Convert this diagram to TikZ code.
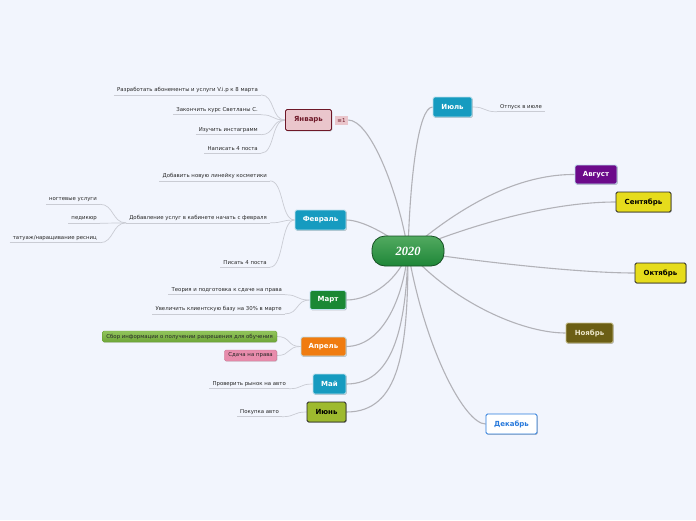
\documentclass[tikz,border=0pt]{standalone}
\usepackage{fontspec}
\setmainfont{DejaVu Sans}
\newfontfamily\serifbi{Liberation Serif}
\usetikzlibrary{shadows}
\definecolor{bgc}{RGB}{242,245,253}
\definecolor{mainline}{RGB}{178,178,184}
\definecolor{subline}{RGB}{202,204,212}
\definecolor{leaftxt}{RGB}{40,40,40}
\definecolor{janfill}{RGB}{234,198,204}
\definecolor{janline}{RGB}{110,24,40}
\definecolor{teal}{RGB}{22,155,192}
\definecolor{tealline}{RGB}{190,225,236}
\definecolor{margreen}{RGB}{26,136,52}
\definecolor{aprorange}{RGB}{240,124,16}
\definecolor{junolive}{RGB}{158,186,46}
\definecolor{augpurple}{RGB}{108,10,138}
\definecolor{sepyellow}{RGB}{230,220,28}
\definecolor{novfill}{RGB}{107,94,20}
\definecolor{novline}{RGB}{200,192,140}
\definecolor{novtxt}{RGB}{236,230,200}
\definecolor{decblue}{RGB}{40,122,220}
\definecolor{ctop}{RGB}{82,170,96}
\definecolor{cbot}{RGB}{30,134,56}
\definecolor{cline}{RGB}{22,80,36}
\definecolor{grtop}{RGB}{146,196,92}
\definecolor{grbot}{RGB}{110,166,56}
\definecolor{pinkbox}{RGB}{232,140,172}
\pgfdeclarelayer{back}
\pgfdeclarelayer{lines}
\pgfsetlayers{back,lines,main}
\tikzset{
  month/.style={draw, rounded corners=1.5pt, line width=0.8pt, inner sep=0pt,
    font=\fontsize{7}{8}\selectfont\bfseries, text=white,
    drop shadow={shadow xshift=0.8pt, shadow yshift=-0.9pt, fill=black, opacity=0.22}},
  leaf/.style={font=\fontsize{5.4}{6}\selectfont, text=leaftxt, inner xsep=3pt, inner ysep=2pt},
  conn/.style={draw=mainline, line width=1.1pt},
  subconn/.style={draw=subline, line width=0.7pt},
  boxleaf/.style={rounded corners=1.5pt, font=\fontsize{5.4}{6}\selectfont, inner xsep=4pt, inner ysep=0pt, minimum height=11pt,
    drop shadow={shadow xshift=0.6pt, shadow yshift=-0.7pt, fill=black, opacity=0.15}}
}
\begin{document}
\begin{tikzpicture}[x=1pt,y=-1pt]
\begin{pgfonlayer}{back}
\fill[bgc] (0,0) rectangle (696,520);
\end{pgfonlayer}
\useasboundingbox (0,0) rectangle (696,520);

% central node
\node[draw=cline, line width=0.8pt, top color=ctop, bottom color=cbot, rounded corners=13pt,
  minimum width=72pt, minimum height=30pt, inner sep=0pt, text=white,
  font=\serifbi\fontsize{12.5}{13}\selectfont\bfseries\itshape] (c) at (408,251) {2020};

% months
\node[month, fill=janfill, draw=janline, text=janline, minimum width=46pt, minimum height=21pt] (jan) at (308.5,120) {Январь};
\node[fill=janfill, inner sep=0pt, minimum width=13pt, minimum height=9pt, text=janline, font=\fontsize{5.5}{6}\selectfont] (badge) at (341.5,120) {≡1};
\node[month, fill=teal, draw=tealline, minimum width=51pt, minimum height=20pt] (feb) at (320.5,220) {Февраль};
\node[month, fill=margreen, draw=tealline, minimum width=36pt, minimum height=19pt] (mar) at (328,300) {Март};
\node[month, fill=aprorange, draw=tealline, minimum width=45pt, minimum height=19pt] (apr) at (323.5,346.5) {Апрель};
\node[month, fill=teal, draw=tealline, minimum width=33pt, minimum height=20pt] (may) at (329.5,384) {Май};
\node[month, fill=junolive, draw=black!85, text=black, minimum width=39pt, minimum height=20pt] (jun) at (326.5,412) {Июнь};
\node[month, fill=teal, draw=tealline, minimum width=39pt, minimum height=20pt] (jul) at (452.5,107) {Июль};
\node[month, fill=augpurple, draw=tealline, minimum width=42pt, minimum height=19pt] (aug) at (596,174.5) {Август};
\node[month, fill=sepyellow, draw=black!85, text=black, minimum width=55pt, minimum height=20pt] (sep) at (643.5,202) {Сентябрь};
\node[month, fill=sepyellow, draw=black!85, text=black, minimum width=51pt, minimum height=20pt] (oct) at (660.5,273) {Октябрь};
\node[month, fill=novfill, draw=novline, text=novtxt, minimum width=47pt, minimum height=20pt] (nov) at (589.5,333) {Ноябрь};
\node[month, fill=white, draw=decblue, text=decblue, minimum width=51pt, minimum height=20pt] (dec) at (511.5,424) {Декабрь};

% leaves
\node[leaf, anchor=east] (a1) at (261,90) {Разработать абонементы и услуги V.i.p к 8 марта};
\node[leaf, anchor=east] (a2) at (261,110) {Закончить курс Светланы С.};
\node[leaf, anchor=east] (a3) at (261,130) {Изучить инстаграмм};
\node[leaf, anchor=east] (a4) at (261,149) {Написать 4 поста};

\node[leaf, anchor=east] (b1) at (270,176) {Добавить новую линейку косметики};
\node[leaf, anchor=east] (b2) at (270,218) {Добавление услуг в кабинете начать с февраля};
\node[leaf, anchor=east] (b3) at (270,263) {Писать 4 поста};
\node[leaf, anchor=east] (c1) at (100,200) {ногтевые услуги};
\node[leaf, anchor=east] (c2) at (100,219) {педикюр};
\node[leaf, anchor=east] (c3) at (100,238) {татуаж/наращивание ресниц};

\node[leaf, anchor=east] (d1) at (285,290) {Теория и подготовка к сдаче на права};
\node[leaf, anchor=east] (d2) at (285,309) {Увеличить клиентскую базу на 30\% в марте};

\node[boxleaf, fill=grbot, top color=grtop, bottom color=grbot, draw=grbot, text=black!85, anchor=east] (e1) at (277,336.5) {Сбор информации о получении разрешения для обучения};
\node[boxleaf, fill=pinkbox, draw=pinkbox!85!black, text=black!85, anchor=east] (e2) at (277,355.5) {Сдача на права};

\node[leaf, anchor=east] (f1) at (289,384) {Проверить рынок на авто};
\node[leaf, anchor=east] (g1) at (282,412) {Покупка авто};
\node[leaf, anchor=west] (h1) at (497,107) {Отпуск в июле};

\begin{pgfonlayer}{lines}
% main connectors
\draw[conn] (badge.east) .. controls (370,120) and (398,190) .. (c.center);
\draw[conn] (feb.east) .. controls (362,220) and (390,235) .. (c.center);
\draw[conn] (mar.east) .. controls (372,300) and (400,278) .. (c.center);
\draw[conn] (apr.east) .. controls (382,346) and (403,300) .. (c.center);
\draw[conn] (may.east) .. controls (392,384) and (406,330) .. (c.center);
\draw[conn] (jun.east) .. controls (400,412) and (408,350) .. (c.center);
\draw[conn] (jul.west) .. controls (418,107) and (410,180) .. (c.center);
\draw[conn] (aug.west) .. controls (510,174) and (450,215) .. (c.center);
\draw[conn] (sep.west) .. controls (550,202) and (470,225) .. (c.center);
\draw[conn] (oct.west) .. controls (580,273) and (480,262) .. (c.center);
\draw[conn] (nov.west) .. controls (520,333) and (450,300) .. (c.center);
\draw[conn] (dec.west) .. controls (465,424) and (425,350) .. (c.center);
% underlines
\foreach \n in {a1,a2,a3,a4,b1,b2,b3,c1,c2,c3,d1,d2,f1,g1,h1}
  \draw[subconn] (\n.south west) -- (\n.south east);
% child connectors
\foreach \n in {a1,a2,a3,a4}
  \draw[subconn] (jan.west) .. controls +(-14,0) and +(14,0) .. (\n.south east);
\foreach \n in {b1,b2,b3}
  \draw[subconn] (feb.west) .. controls +(-14,0) and +(14,0) .. (\n.south east);
\foreach \n in {c1,c2,c3}
  \draw[subconn] (b2.south west) .. controls +(-14,0) and +(14,0) .. (\n.south east);
\foreach \n in {d1,d2}
  \draw[subconn] (mar.west) .. controls +(-14,0) and +(14,0) .. (\n.south east);
\foreach \n in {e1,e2}
  \draw[subconn] (apr.west) .. controls +(-14,0) and +(14,0) .. (\n.east);
\draw[subconn] (may.west) .. controls +(-14,0) and +(14,0) .. (f1.south east);
\draw[subconn] (jun.west) .. controls +(-14,0) and +(14,0) .. (g1.south east);
\draw[subconn] (jul.east) .. controls +(14,0) and +(-14,0) .. (h1.south west);
\end{pgfonlayer}
\end{tikzpicture}
\end{document}
